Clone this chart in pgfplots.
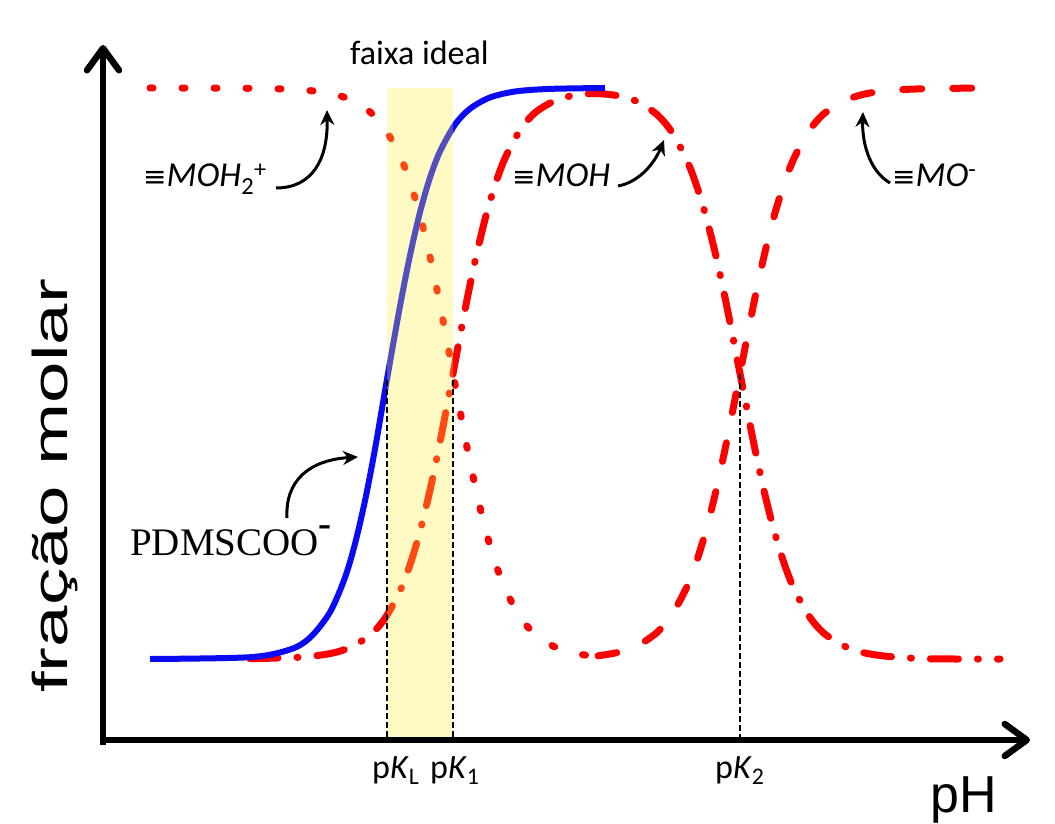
\documentclass[border=0pt]{standalone}
\usepackage{pgfplots}
\pgfplotsset{compat=1.18}
\usetikzlibrary{arrows.meta}
\usepackage{fontspec}
\setmainfont{Carlito}
\newfontfamily\arialfont{Liberation Sans}
\newfontfamily\timesfont{Liberation Serif}
\newfontfamily\dejavu{DejaVu Sans}
\definecolor{myred}{RGB}{255,0,0}
\definecolor{myblue}{RGB}{10,10,245}
\definecolor{band}{RGB}{255,240,60}

\pgfplotstableread{
x y
150 81
250 82.8
290 90.5
310 102.3
330 127.8
345 162.5
355 196.2
365 239.3
375 291
388 366.5
400 433.8
410 484.6
420 527.8
430 562.4
440 588.6
455 615.4
470 631.3
490 642.5
515 648.5
550 651.1
605 652
}\pdms

\pgfplotstableread{
x y
150 652
250 651.7
300 650.2
330 646.6
350 640.5
370 628.1
385 611.3
400 583.9
410 557.9
420 524.4
430 483.2
440 435.2
453 366.5
466 297.8
476 249.8
486 208.6
496 175.1
506 149.1
521 121.7
536 104.9
556 92.5
576 86.4
598 83.4
}\mohtwo

\pgfplotstableread{
x y
250 81.3
300 82.8
330 86.4
350 92.5
370 104.9
385 121.7
400 149.1
410 175.1
420 208.6
430 249.8
440 297.8
453 366.5
466 435.2
476 483.2
486 524.4
496 557.9
506 583.9
521 611.3
536 628.1
556 639.8
576 645.1
596 646.4
616 644.6
636 639.0
656 626.3
671 609.1
686 581.7
696 556.1
706 523.5
716 483.7
726 437.6
740 366.5
754 295.4
764 249.3
774 209.5
784 176.9
794 151.3
809 123.9
824 106.7
844 94.0
864 87.2
890 83.4
930 81.2
1000 81
}\moh

\pgfplotstableread{
x y
598 84.2
616 87.2
636 93.7
656 106.7
671 123.9
686 151.3
696 176.9
706 209.5
716 249.3
726 295.4
740 366.5
754 437.6
764 483.7
774 523.5
784 556.1
794 581.7
809 609.1
824 626.3
844 639.0
864 645.8
890 649.6
930 651.4
1000 652
}\mominus

\begin{document}
\begin{tikzpicture}
\begin{axis}[
  x=1pt, y=1pt,
  xmin=0, xmax=1055, ymin=-83, ymax=740,
  hide axis, clip=false,
]
\path (axis cs:0,-83) rectangle (axis cs:1055,740);

% red curves
\addplot[myred, line width=7pt, line cap=round, smooth, dash pattern=on 3pt off 29pt] table {\mohtwo};
\addplot[myred, line width=7pt, line cap=round, smooth, dash pattern=on 28pt off 19pt on 1pt off 19pt] table {\moh};
\addplot[myred, line width=7pt, line cap=round, smooth, dash pattern=on 19pt off 31pt] table {\mominus};
% blue curve
\addplot[myblue, line width=6pt, smooth] table {\pdms};

% ideal band
\fill[band, fill opacity=0.3] (axis cs:387,0) rectangle (axis cs:453,652);

% dashed guide lines
\draw[black, line width=2.5pt, dash pattern=on 6pt off 3pt] (axis cs:387,360) -- (axis cs:387,0);
\draw[black, line width=2.5pt, dash pattern=on 6pt off 3pt] (axis cs:453,360) -- (axis cs:453,0);
\draw[black, line width=2.5pt, dash pattern=on 6pt off 3pt] (axis cs:740,366) -- (axis cs:740,0);

% axes
\draw[black, line width=6.5pt, -{Straight Barb[length=22pt, width=32pt, round]}] (axis cs:103,-5) -- (axis cs:103,695);
\draw[black, line width=6.5pt, -{Straight Barb[length=22pt, width=32pt, round]}] (axis cs:100,0) -- (axis cs:1030,0);

% labels
\node[anchor=base west, inner sep=0pt, font=\fontsize{34}{40}\selectfont] at (axis cs:350,675) {faixa ideal};
\node[anchor=base west, inner sep=0pt, font=\fontsize{34}{40}\selectfont] at (axis cs:372,-38) {p\textit{K}\textsubscript{L}};
\node[anchor=base west, inner sep=0pt, font=\fontsize{34}{40}\selectfont] at (axis cs:430,-38) {p\textit{K}\textsubscript{1}};
\node[anchor=base west, inner sep=0pt, font=\fontsize{34}{40}\selectfont] at (axis cs:715,-38) {p\textit{K}\textsubscript{2}};
\node[anchor=base west, inner sep=0pt, font=\fontsize{52}{60}\selectfont\arialfont] at (axis cs:930,-72) {pH};
\node[anchor=base west, inner sep=0pt, rotate=90, font=\fontsize{49}{56}\selectfont\arialfont] at (axis cs:67,47) {\scalebox{1.52}[1]{fração molar}};

\node[anchor=base west, inner sep=0pt, font=\fontsize{35}{40}\selectfont] at (axis cs:143,553) {{\fontsize{28}{32}\selectfont\dejavu ≡}\textit{MOH}\textsubscript{2}\textsuperscript{+}};
\node[anchor=base west, inner sep=0pt, font=\fontsize{35}{40}\selectfont] at (axis cs:512,553) {{\fontsize{28}{32}\selectfont\dejavu ≡}\textit{MOH}};
\node[anchor=base west, inner sep=0pt, font=\fontsize{35}{40}\selectfont] at (axis cs:892,553) {{\fontsize{28}{32}\selectfont\dejavu ≡}\textit{MO}\textsuperscript{-}};
\node[anchor=base west, inner sep=0pt, font=\fontsize{39}{46}\selectfont\timesfont] at (axis cs:130,185) {PDMSCOO\raisebox{19pt}{\textbf{-}}};

% curved arrows
\draw[black, line width=3pt, -{Stealth[length=15pt, width=14pt]}] (axis cs:276,552) .. controls (axis cs:312,552) and (axis cs:328,580) .. (axis cs:327,630);
\draw[black, line width=3pt, -{Stealth[length=15pt, width=14pt]}] (axis cs:618,554) .. controls (axis cs:640,558) and (axis cs:655,578) .. (axis cs:664,600);
\draw[black, line width=3pt, -{Stealth[length=15pt, width=14pt]}] (axis cs:890,557) .. controls (axis cs:868,570) and (axis cs:862,600) .. (axis cs:863,628);
\draw[black, line width=3pt, -{Stealth[length=15pt, width=14pt]}] (axis cs:287,222) .. controls (axis cs:285,260) and (axis cs:310,280) .. (axis cs:358,283);
\end{axis}
\end{tikzpicture}
\end{document}
